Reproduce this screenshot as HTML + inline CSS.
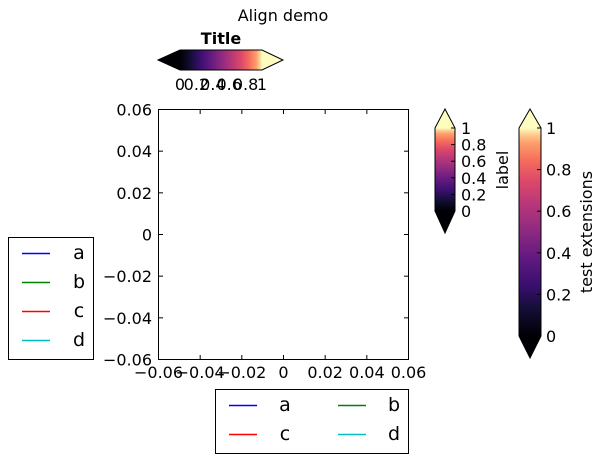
<!DOCTYPE html>
<html><head><meta charset="utf-8"><style>
body{margin:0;background:#fff}
svg{display:block;font-family:"DejaVu Sans","Liberation Sans",sans-serif}
</style></head><body>
<svg id="fig" width="602" height="461" viewBox="0 0 602 461">
<defs>
<linearGradient id="magH" x1="0" y1="0" x2="1" y2="0">
<stop offset="0" stop-color="#000004"/><stop offset="0.13" stop-color="#140e36"/><stop offset="0.25" stop-color="#3b0f70"/><stop offset="0.38" stop-color="#641a80"/><stop offset="0.5" stop-color="#8c2981"/><stop offset="0.63" stop-color="#b73779"/><stop offset="0.75" stop-color="#de4968"/><stop offset="0.85" stop-color="#f7705c"/><stop offset="0.93" stop-color="#fe9f6d"/><stop offset="0.97" stop-color="#fecf92"/><stop offset="1" stop-color="#fcfdbf"/>
</linearGradient>
<linearGradient id="magV" x1="0" y1="1" x2="0" y2="0">
<stop offset="0" stop-color="#000004"/><stop offset="0.13" stop-color="#140e36"/><stop offset="0.25" stop-color="#3b0f70"/><stop offset="0.38" stop-color="#641a80"/><stop offset="0.5" stop-color="#8c2981"/><stop offset="0.63" stop-color="#b73779"/><stop offset="0.75" stop-color="#de4968"/><stop offset="0.85" stop-color="#f7705c"/><stop offset="0.93" stop-color="#fe9f6d"/><stop offset="0.97" stop-color="#fecf92"/><stop offset="1" stop-color="#fcfdbf"/>
</linearGradient>
</defs>
<text x="283" y="21" font-size="16" text-anchor="middle">Align demo</text>
<g id="hcb">
<text x="221" y="44" font-size="16" font-weight="bold" text-anchor="middle">Title</text>
<polygon points="158,60 180,50 180,70" fill="#000004"/>
<polygon points="262,50 283,60 262,70" fill="#fcfdbf"/>
<rect x="180" y="50" width="82" height="20" fill="url(#magH)"/>
<polygon points="158,60 180,50 262,50 283,60 262,70 180,70" fill="none" stroke="#000" stroke-width="1"/>
</g>
<g id="axes">
<rect x="158.5" y="109.5" width="250" height="250" fill="#fff" stroke="#000" stroke-width="1"/>
</g>
<g id="vcb1">
<polygon points="435,128 445,109 455,128" fill="#fcfdbf"/>
<polygon points="435,211 445,233 455,211" fill="#000004"/>
<rect x="435" y="128" width="20" height="83" fill="url(#magV)"/>
<polygon points="435,128 445,109 455,128 455,211 445,233 435,211" fill="none" stroke="#000"/>
<text transform="translate(508,170) rotate(-90)" font-size="16" text-anchor="middle">label</text>
</g>
<g id="vcb2">
<polygon points="519,128 530,109 541,128" fill="#fcfdbf"/>
<polygon points="519,336 530,358 541,336" fill="#000004"/>
<rect x="519" y="128" width="22" height="208" fill="url(#magV)"/>
<polygon points="519,128 530,109 541,128 541,336 530,358 519,336" fill="none" stroke="#000"/>
<text transform="translate(592,232) rotate(-90)" font-size="16" text-anchor="middle">test extensions</text>
</g>
<g>
<rect x="8.5" y="237.5" width="85" height="122" fill="#fff" stroke="#000"/>
</g>
<g>
<rect x="215.5" y="389.5" width="193" height="64" fill="#fff" stroke="#000"/>
</g>
<g id="dyn"></g>
</svg>
<script>
const axisTicks=[-0.06,-0.04,-0.02,0,0.02,0.04,0.06];
const axisTickLabels=["\u22120.06","\u22120.04","\u22120.02","0","0.02","0.04","0.06"];
const cbTicks=[0,0.2,0.4,0.6,0.8,1];
const cbTickLabels=["0","0.2","0.4","0.6","0.8","1"];
const seriesNames=["a","b","c","d"];
const seriesColors=["#0000ff","#008000","#ff0000","#00bfbf"];
const NS="http://www.w3.org/2000/svg";
const g=document.getElementById('dyn');
function mk(t,a,txt){const e=document.createElementNS(NS,t);for(const k in a)e.setAttribute(k,a[k]);if(txt!=null)e.textContent=txt;g.appendChild(e);return e;}
const X=v=>158.5+(v+0.06)/0.12*250, Y=v=>359.5-(v+0.06)/0.12*250;
axisTicks.forEach((v,i)=>{
 let e;
 e=mk('line',{x1:X(v),x2:X(v),y1:359,y2:355,stroke:'#000'});
 
 e=mk('line',{x1:X(v),x2:X(v),y1:110,y2:114,stroke:'#000'});
 
 e=mk('line',{x1:159,x2:163,y1:Y(v),y2:Y(v),stroke:'#000'});
 
 e=mk('line',{x1:408,x2:404,y1:Y(v),y2:Y(v),stroke:'#000'});
 
 e=mk('text',{x:X(v),y:378,'font-size':16,'text-anchor':'middle'},axisTickLabels[i]);
 
 e=mk('text',{x:152,y:Y(v)+6,'font-size':16,'text-anchor':'end'},axisTickLabels[i]);
 
});
cbTicks.forEach((v,i)=>{
 let e;
 const hx=180+v*82;
 e=mk('text',{x:hx,y:90,'font-size':16,'text-anchor':'middle'},cbTickLabels[i]);
 
 const y1=211-v*83;
 e=mk('line',{x1:451,x2:455,y1:y1,y2:y1,stroke:'#000'});
 
 e=mk('text',{x:461,y:y1+6,'font-size':16},cbTickLabels[i]);
 
 const y2=336-v*208;
 e=mk('line',{x1:537,x2:541,y1:y2,y2:y2,stroke:'#000'});
 
 e=mk('text',{x:546,y:y2+6,'font-size':16},cbTickLabels[i]);
 
});
seriesNames.forEach((n,i)=>{
 let e;
 const y=253+i*29;
 e=mk('rect',{x:22,y:y-0.25,width:28,height:1.5,fill:seriesColors[i]});
 
 e=mk('text',{x:79,y:y+6,'font-size':19,'text-anchor':'middle'},n);
 
 const col=i%2,row=Math.floor(i/2);
 const bx=229+col*109,by=405+row*29;
 e=mk('rect',{x:bx,y:by-0.25,width:28,height:1.5,fill:seriesColors[i]});
 
 e=mk('text',{x:bx+56,y:by+6,'font-size':19,'text-anchor':'middle'},n);
 
});
</script>
</body></html>
